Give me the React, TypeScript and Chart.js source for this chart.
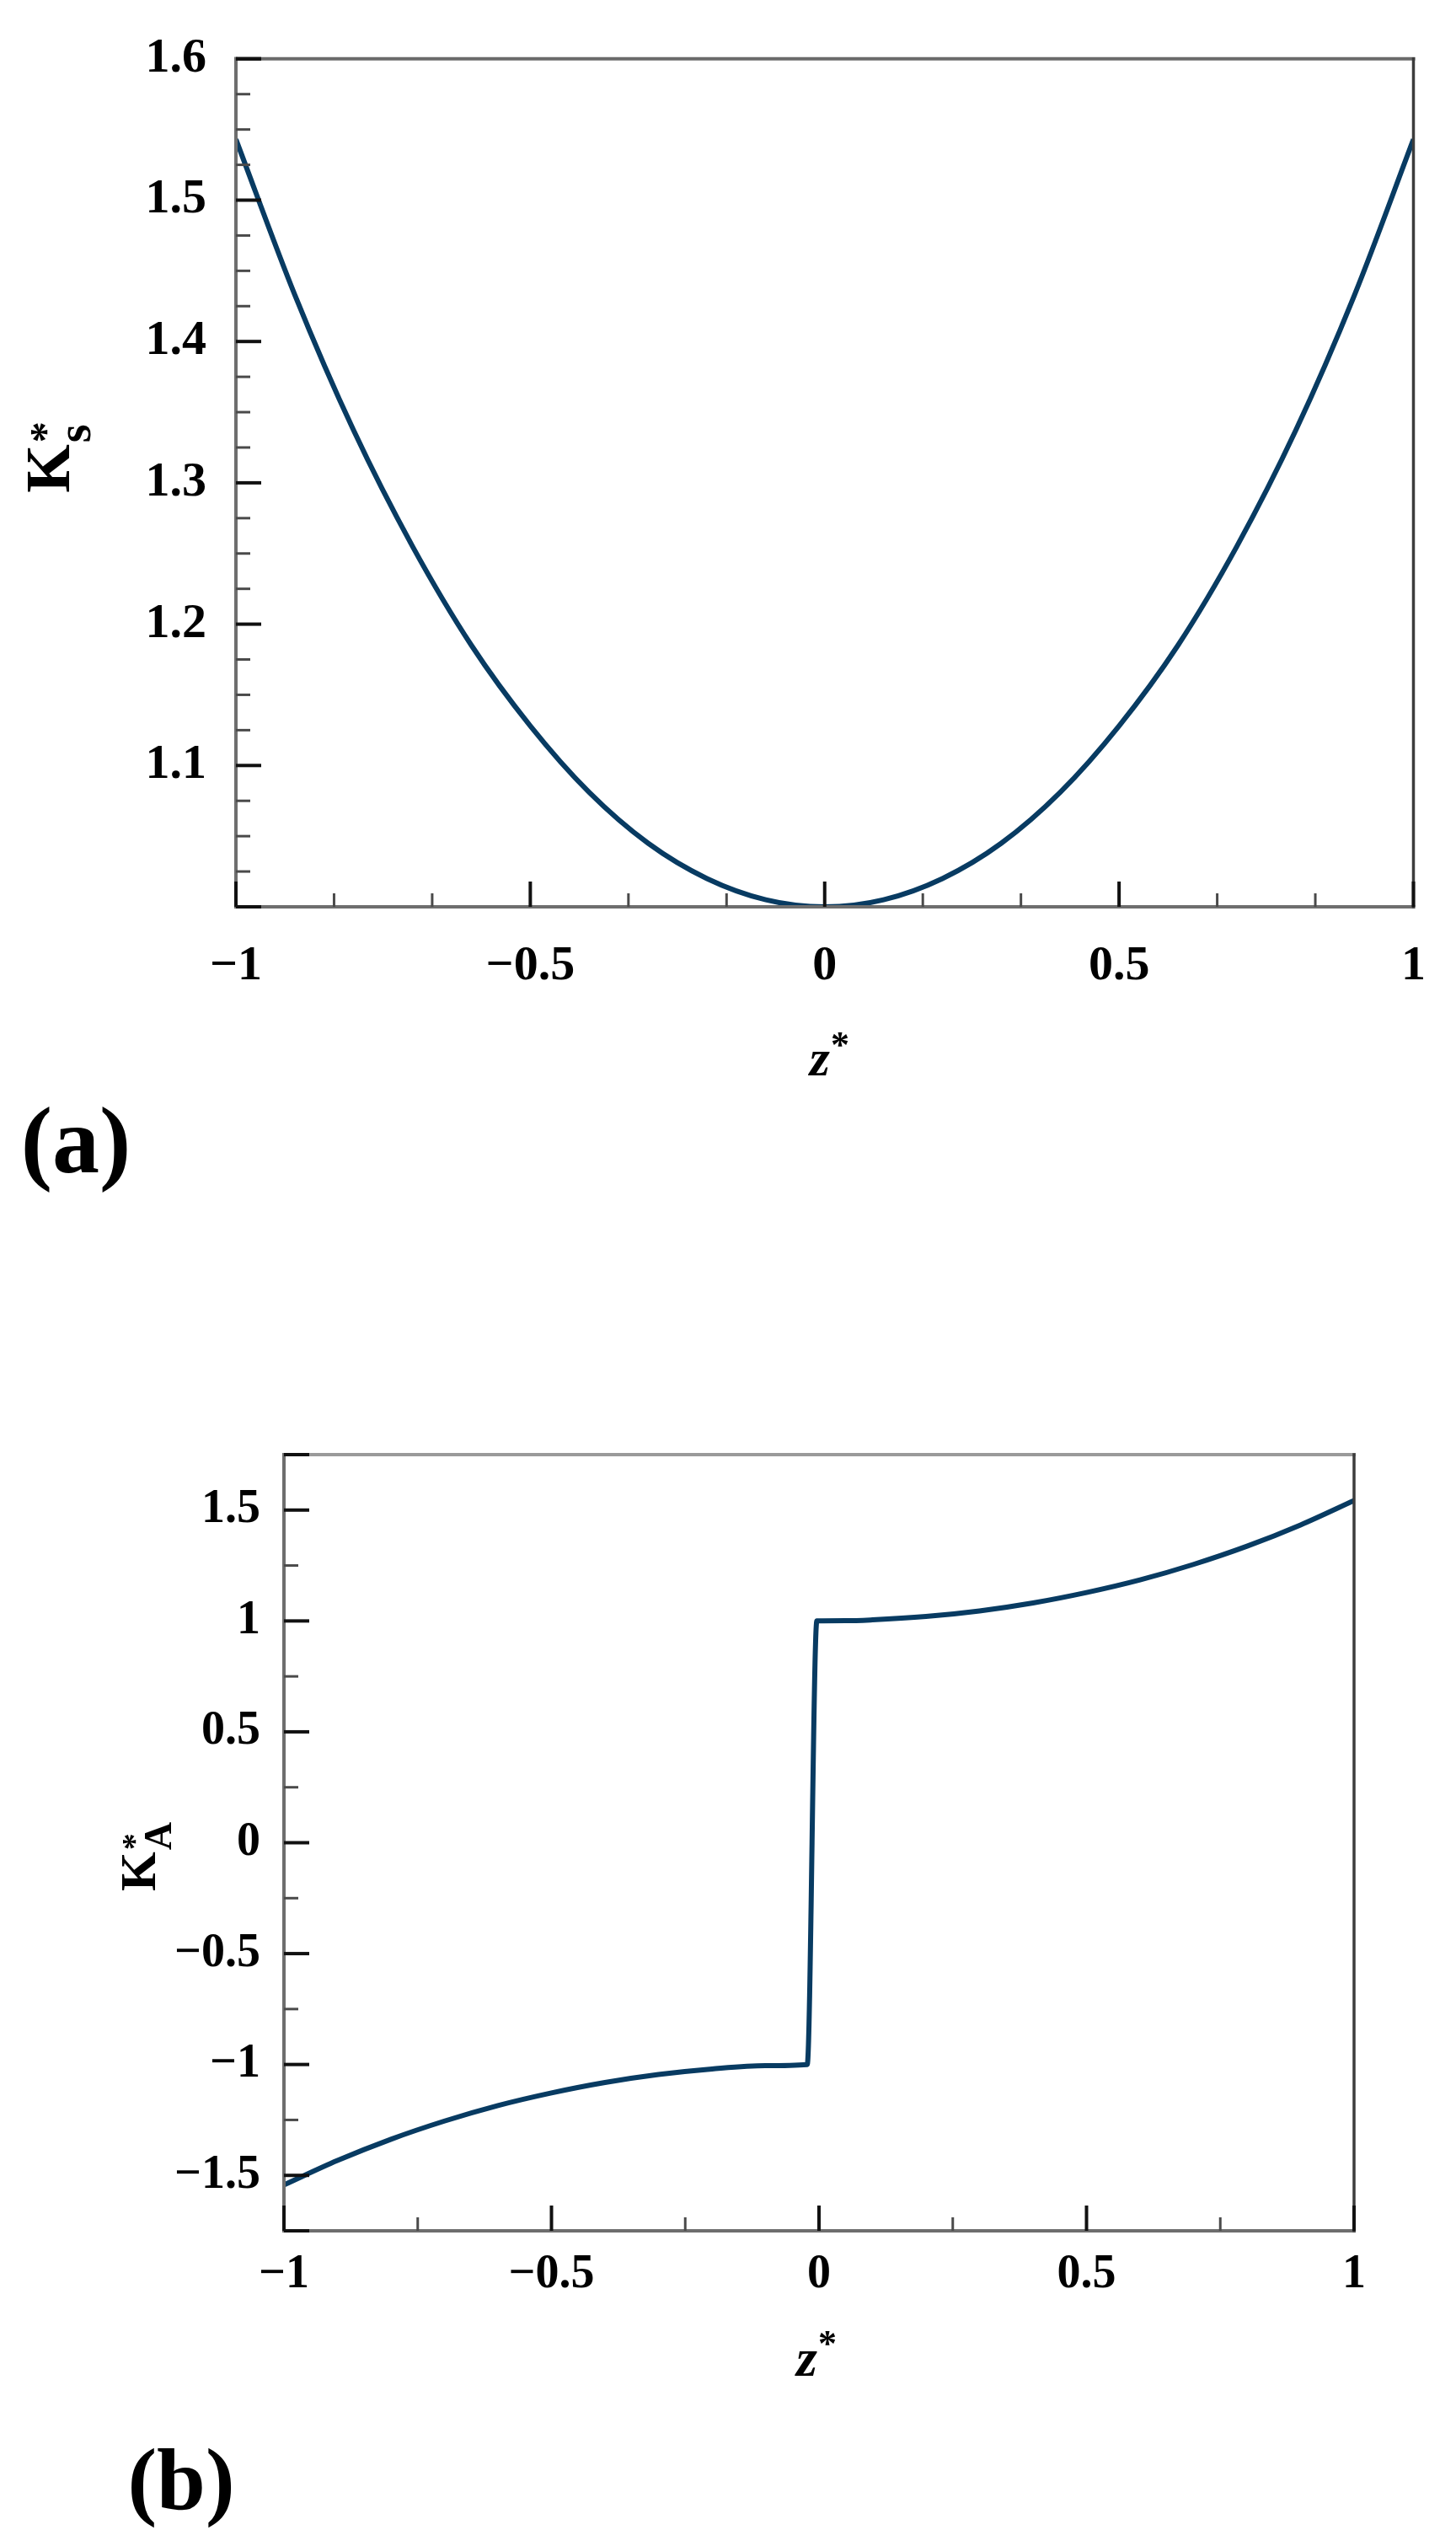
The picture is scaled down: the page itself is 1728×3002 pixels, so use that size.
import React, { useEffect, useRef } from "react";
import { Chart, registerables } from "chart.js";

Chart.register(...registerables);

// ---------- Panel (a): K*s vs z* ----------
const zA = [-1, -0.9, -0.8, -0.7, -0.6, -0.5, -0.4, -0.3, -0.2, -0.1, 0, 0.1, 0.2, 0.3, 0.4, 0.5, 0.6, 0.7, 0.8, 0.9, 1];
const ksA = [1.543, 1.433, 1.337, 1.255, 1.185, 1.128, 1.081, 1.045, 1.02, 1.005, 1.0, 1.005, 1.02, 1.045, 1.081, 1.128, 1.185, 1.255, 1.337, 1.433, 1.543];
const xTicksA = [-1, -0.5, 0, 0.5, 1];
const yTicksA = [1.1, 1.2, 1.3, 1.4, 1.5, 1.6];
const xRangeA = [-1, 1];
const yRangeA = [1.0, 1.6];
const xMinorA = 1 / 6;
const yMinorA = 0.025;

// ---------- Panel (b): K*A vs z* ----------
const zB = [-1, -0.9, -0.8, -0.7, -0.6, -0.5, -0.4, -0.3, -0.2, -0.1, -0.022, -0.004, 0.05, 0.1, 0.2, 0.3, 0.4, 0.5, 0.6, 0.7, 0.8, 0.9, 1];
const kaB = [-1.543, -1.433, -1.337, -1.255, -1.185, -1.128, -1.081, -1.045, -1.02, -1.005, -1.0, 1.0, 1.001, 1.005, 1.02, 1.045, 1.081, 1.128, 1.185, 1.255, 1.337, 1.433, 1.543];
const xTicksB = [-1, -0.5, 0, 0.5, 1];
const yTicksB = [-1.5, -1, -0.5, 0, 0.5, 1, 1.5];
const xRangeB = [-1, 1];
const yRangeB = [-1.75, 1.75];
const xMinorB = 0.25;
const yMinorB = 0.25;

const SERIF = '"Liberation Serif", "DejaVu Serif", serif';
const LINE_COLOR = "#083b62";

const fmt = (v: number) => (v < 0 ? "\u2212" + String(Math.abs(v)) : String(v));

function minorValues(min: number, max: number, step: number, majors: number[]) {
  const out: number[] = [];
  const n = Math.round((max - min) / step);
  for (let i = 0; i <= n; i++) {
    const v = min + i * step;
    if (!majors.some((m) => Math.abs(m - v) < 1e-6)) out.push(v);
  }
  return out;
}

const frameTicks = {
  id: "frameTicks",
  afterDatasetsDraw(chart: any, _args: any, o: any) {
    const { ctx, chartArea } = chart;
    const xs = chart.scales.x;
    const ys = chart.scales.y;
    const { left, right, top, bottom } = chartArea;
    ctx.save();
    ctx.lineCap = "square";
    ctx.lineWidth = 4;
    ctx.strokeStyle = o.topColor;
    ctx.beginPath();
    ctx.moveTo(left, top);
    ctx.lineTo(right, top);
    ctx.stroke();
    ctx.strokeStyle = "#6e6e6e";
    ctx.beginPath();
    ctx.moveTo(left, top);
    ctx.lineTo(left, bottom);
    ctx.lineTo(right, bottom);
    ctx.stroke();
    ctx.lineWidth = 3.5;
    ctx.strokeStyle = "#3c3c3c";
    ctx.beginPath();
    ctx.moveTo(right, top);
    ctx.lineTo(right, bottom);
    ctx.stroke();
    ctx.lineCap = "butt";
    const drawX = (vals: number[], len: number, w: number, col: string) => {
      ctx.lineWidth = w;
      ctx.strokeStyle = col;
      vals.forEach((v) => {
        const px = xs.getPixelForValue(v);
        ctx.beginPath();
        ctx.moveTo(px, bottom);
        ctx.lineTo(px, bottom - len);
        ctx.stroke();
      });
    };
    const drawY = (vals: number[], len: number, w: number, col: string) => {
      ctx.lineWidth = w;
      ctx.strokeStyle = col;
      vals.forEach((v) => {
        const py = ys.getPixelForValue(v);
        ctx.beginPath();
        ctx.moveTo(left, py);
        ctx.lineTo(left + len, py);
        ctx.stroke();
      });
    };
    drawX(o.xMinor, 16, 3, "#4a4a4a");
    drawY(o.yMinor, 17, 3, "#4a4a4a");
    drawX(o.xMajor, 30, 4, "#111");
    drawY(o.yMajor, 30, 4, "#111");
    ctx.restore();
  },
  afterDraw(chart: any, _args: any, o: any) {
    const { ctx, chartArea } = chart;
    const { left, right, top, bottom } = chartArea;
    const cx = (left + right) / 2;
    ctx.save();
    ctx.fillStyle = "#000";
    const t = o.yTitle;
    ctx.translate(left + t.dx, top + t.dy);
    ctx.rotate(-Math.PI / 2);
    ctx.textAlign = "left";
    ctx.textBaseline = "alphabetic";
    ctx.font = `bold ${t.k}px ${SERIF}`;
    ctx.fillText("K", 0, 0);
    const kw = ctx.measureText("K").width;
    ctx.font = `bold ${t.star}px ${SERIF}`;
    ctx.fillText("*", kw + 2, t.starDy);
    ctx.font = `bold ${t.sub}px ${SERIF}`;
    ctx.fillText(t.subText, kw + 2, t.subDy);
    ctx.restore();

    const xt = o.xTitle;
    ctx.save();
    ctx.fillStyle = "#000";
    ctx.textAlign = "left";
    ctx.textBaseline = "alphabetic";
    ctx.font = `italic bold ${xt.z}px ${SERIF}`;
    const zx = cx + xt.dx;
    const zy = bottom + xt.dy;
    ctx.fillText("z", zx, zy);
    const zw = ctx.measureText("z").width;
    ctx.font = `bold ${xt.star}px ${SERIF}`;
    ctx.fillText("*", zx + zw + 1, zy - xt.starRaise);
    ctx.restore();

    const p = o.panel;
    ctx.save();
    ctx.fillStyle = "#000";
    ctx.textAlign = "center";
    ctx.textBaseline = "middle";
    ctx.font = `bold ${p.size}px ${SERIF}`;
    ctx.fillText(p.text, p.x, p.y);
    ctx.restore();
  },
};

function makeConfig(p: any) {
  const tickFont = { family: SERIF, size: p.tickSize, weight: "bold" as const };
  return {
    type: "line" as const,
    data: {
      datasets: [
        {
          data: p.xs.map((x: number, i: number) => ({ x, y: p.ys[i] })),
          borderColor: LINE_COLOR,
          borderWidth: 6,
          pointRadius: 0,
          fill: false,
          cubicInterpolationMode: "monotone" as const,
        },
      ],
    },
    options: {
      responsive: false,
      animation: false as const,
      devicePixelRatio: 1,
      layout: { padding: { top: p.padTop, right: p.padRight, left: 0, bottom: 0 } },
      plugins: {
        legend: { display: false },
        tooltip: { enabled: false },
        frameTicks: {
          xMajor: p.xTicks,
          yMajor: p.yTicks.concat([p.yRange[0], p.yRange[1]]),
          xMinor: minorValues(p.xRange[0], p.xRange[1], p.xMinor, p.xTicks),
          yMinor: minorValues(p.yRange[0], p.yRange[1], p.yMinor, p.yTicks.concat([p.yRange[0], p.yRange[1]])),
          topColor: p.topColor,
          yTitle: p.yTitle,
          xTitle: p.xTitle,
          panel: p.panel,
        },
      },
      scales: {
        x: {
          type: "linear" as const,
          min: p.xRange[0],
          max: p.xRange[1],
          grid: { display: false, drawTicks: false },
          border: { display: false },
          afterBuildTicks: (s: any) => {
            s.ticks = p.xTicks.map((v: number) => ({ value: v }));
          },
          afterFit: (s: any) => {
            s.height = p.xAxisHeight;
          },
          ticks: {
            autoSkip: false,
            maxRotation: 0,
            minRotation: 0,
            padding: p.xPad,
            color: "#000",
            font: tickFont,
            callback: (v: any) => fmt(Number(v)),
          },
        },
        y: {
          type: "linear" as const,
          min: p.yRange[0],
          max: p.yRange[1],
          grid: { display: false, drawTicks: false },
          border: { display: false },
          afterBuildTicks: (s: any) => {
            s.ticks = p.yTicks.map((v: number) => ({ value: v }));
          },
          afterFit: (s: any) => {
            s.width = p.yAxisWidth;
          },
          ticks: {
            autoSkip: false,
            padding: p.yPad,
            color: "#000",
            font: tickFont,
            callback: (v: any) => fmt(Number(v)),
          },
        },
      },
    },
    plugins: [frameTicks],
  };
}

const panelA = {
  xs: zA,
  ys: ksA,
  xTicks: xTicksA,
  yTicks: yTicksA,
  xRange: xRangeA,
  yRange: yRangeA,
  xMinor: xMinorA,
  yMinor: yMinorA,
  tickSize: 58,
  padTop: 43,
  padRight: 46,
  yAxisWidth: 280,
  xAxisHeight: 474,
  xPad: 36,
  yPad: 35,
  topColor: "#6a6a6a",
  yTitle: { dx: -198, dy: 515, k: 74, star: 50, starDy: -12, sub: 56, subDy: 25, subText: "s" },
  xTitle: { z: 62, star: 44, dx: -18, dy: 200, starRaise: 22 },
  panel: { text: "(a)", size: 112, x: 90, y: 1362 },
};

const panelB = {
  xs: zB,
  ys: kaB,
  xTicks: xTicksB,
  yTicks: yTicksB,
  xRange: xRangeB,
  yRange: yRangeB,
  xMinor: xMinorB,
  yMinor: yMinorB,
  tickSize: 56,
  padTop: 176,
  padRight: 121,
  yAxisWidth: 337,
  xAxisHeight: 355,
  xPad: 19,
  yPad: 28,
  topColor: "#9a9a9a",
  yTitle: { dx: -153, dy: 518, k: 60, star: 40, starDy: -12, sub: 46, subDy: 19, subText: "A" },
  xTitle: { z: 64, star: 44, dx: -27, dy: 172, starRaise: 24 },
  panel: { text: "(b)", size: 104, x: 215, y: 1400 },
};

function Panel({ cfg, top, height }: { cfg: any; top: number; height: number }) {
  const ref = useRef<HTMLCanvasElement | null>(null);
  useEffect(() => {
    if (!ref.current) return;
    const chart = new Chart(ref.current, makeConfig(cfg) as any);
    return () => chart.destroy();
  }, [cfg]);
  return (
    <canvas
      ref={ref}
      width={1728}
      height={height}
      style={{ position: "absolute", left: 0, top, width: 1728, height, display: "block" }}
    />
  );
}

export default function App() {
  return (
    <div
      style={{
        position: "absolute",
        left: 0,
        top: 0,
        width: 1728,
        height: 3002,
        overflow: "hidden",
        background: "#fff",
      }}
    >
      <Panel cfg={panelA} top={0} height={1550} />
      <Panel cfg={panelB} top={1550} height={1452} />
    </div>
  );
}
